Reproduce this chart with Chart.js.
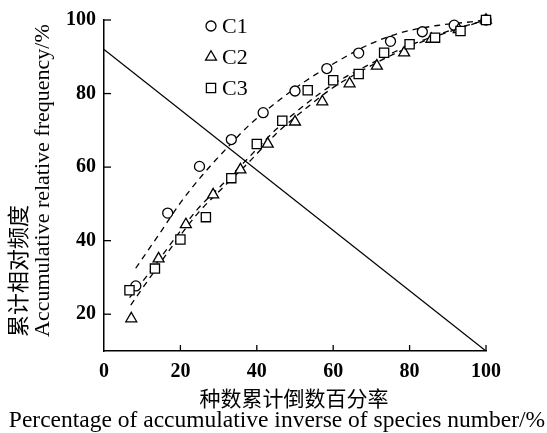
<!DOCTYPE html>
<html>
<head>
<meta charset="utf-8">
<script src="https://cdn.jsdelivr.net/npm/chart.js@4.4.1/dist/chart.umd.min.js"></script>
<style>
  html, body { margin: 0; padding: 0; background: #fff; }
  #wrap { width: 547px; height: 433px; }
</style>
</head>
<body>
<div id="wrap"><canvas id="chart" width="547" height="433"></canvas></div>
<script>
const c1X = [8.33, 16.67, 25, 33.33, 41.67, 50, 58.33, 66.67, 75, 83.33, 91.67, 100];
const c1Y = [27.7, 47.5, 60.2, 67.5, 74.8, 80.7, 86.8, 91.0, 94.2, 96.8, 98.6, 100];
const c2X = [7.14, 14.29, 21.43, 28.57, 35.71, 42.86, 50, 57.14, 64.29, 71.43, 78.57, 85.71, 92.86, 100];
const c2Y = [18.8, 35.1, 44.4, 52.5, 59.3, 66.3, 72.3, 77.8, 82.7, 87.5, 91.1, 94.8, 97.4, 100];
const c3X = [6.67, 13.33, 20, 26.67, 33.33, 40, 46.67, 53.33, 60, 66.67, 73.33, 80, 86.67, 93.33, 100];
const c3Y = [26.5, 32.4, 40.3, 46.4, 57.0, 66.3, 72.6, 80.9, 83.6, 85.3, 91.1, 93.4, 95.2, 97.0, 100];

// dashed fitted curves
const fit1X = [8.3, 14.6, 19.8, 25.9, 32, 38.1, 45, 52.9, 60.7, 69.3, 77.6, 87.2, 96, 100];
const fit1Y = [32.5, 42, 50, 58, 65, 71.5, 77.5, 83.5, 88.5, 93.3, 96.5, 98.5, 99.5, 100];
const fit2X = [7, 12.4, 18.1, 24.6, 30.7, 37.6, 45, 52.9, 59.8, 68.5, 76, 84, 92, 100];
const fit2Y = [22.5, 30.5, 38.8, 47.5, 54, 61, 69, 76, 81.5, 86.8, 90.8, 94.4, 97.4, 100];
const fit3X = [6.7, 12.4, 18.1, 24.6, 30.7, 37.6, 45, 52.9, 59.8, 68.5, 76, 84, 92, 100];
const fit3Y = [24.5, 32, 40, 48.7, 55, 62.3, 70.2, 77.2, 82.4, 87.4, 91.3, 94.7, 97.6, 100];

// solid straight line
const lineX = [0, 100];
const lineY = [92, 10];

const xTicks = [0, 20, 40, 60, 80, 100];
const yTicks = [20, 40, 60, 80, 100];
const seriesNames = ['C1', 'C2', 'C3'];

const pts = (xs, ys) => xs.map((x, i) => ({ x: x, y: ys[i] }));

const serif = '"Liberation Serif", "Times New Roman", serif';
const cjk = '"Noto Sans CJK SC", sans-serif';

function drawMarker(ctx, style, x, y, r) {
  ctx.beginPath();
  if (style === 'circle') {
    ctx.arc(x, y, r, 0, Math.PI * 2);
  } else if (style === 'triangle') {
    ctx.moveTo(x, y - r);
    ctx.lineTo(x + r * 0.866, y + r * 0.5);
    ctx.lineTo(x - r * 0.866, y + r * 0.5);
    ctx.closePath();
  } else {
    const s = r * Math.SQRT1_2;
    ctx.rect(x - s, y - s, 2 * s, 2 * s);
  }
  ctx.fillStyle = '#fff';
  ctx.fill();
  ctx.stroke();
}

const decorations = {
  id: 'decorations',
  afterDraw(chart) {
    const { ctx, chartArea: a, scales: { x, y } } = chart;
    ctx.save();
    ctx.strokeStyle = '#000';
    ctx.lineWidth = 1.3;

    // inward tick marks
    xTicks.forEach(v => {
      if (v === 0) return;
      const px = x.getPixelForValue(v);
      ctx.beginPath();
      ctx.moveTo(px, a.bottom);
      ctx.lineTo(px, a.bottom - 6);
      ctx.stroke();
    });
    yTicks.forEach(v => {
      const py = y.getPixelForValue(v);
      ctx.beginPath();
      ctx.moveTo(a.left, py);
      ctx.lineTo(a.left + 7, py);
      ctx.stroke();
    });

    // legend inside the plot
    const styles = ['circle', 'triangle', 'rect'];
    const radii = [5, 6.3, 6.5];
    ctx.font = '22px ' + serif;
    ctx.textBaseline = 'middle';
    seriesNames.forEach((name, i) => {
      const ly = a.top + 6 + i * 31;
      drawMarker(ctx, styles[i], a.left + 107, ly, radii[i]);
      ctx.fillStyle = '#000';
      ctx.textAlign = 'left';
      ctx.fillText(name, a.left + 118, ly + 1);
    });

    // axis titles
    ctx.fillStyle = '#000';
    ctx.textAlign = 'center';
    ctx.font = '21px ' + cjk;
    ctx.fillText('种数累计倒数百分率', 294, 398);
    ctx.font = '23.5px ' + serif;
    ctx.fillText('Percentage of accumulative inverse of species number/%', 277, 421);

    ctx.save();
    ctx.translate(18, 337);
    ctx.rotate(-Math.PI / 2);
    ctx.textAlign = 'left';
    ctx.font = '22px ' + cjk;
    ctx.fillText('累计相对频度', 0, 0);
    ctx.restore();

    ctx.save();
    ctx.translate(43, 337);
    ctx.rotate(-Math.PI / 2);
    ctx.textAlign = 'left';
    ctx.font = '22px ' + serif;
    ctx.fillText('Accumulative relative frequency/%', 0, 0);
    ctx.restore();

    ctx.restore();
  }
};

const dashed = (data) => ({
  type: 'line',
  data: data,
  borderColor: '#000',
  borderWidth: 1.3,
  borderDash: [6, 5],
  pointRadius: 0,
  fill: false,
  clip: false,
  cubicInterpolationMode: 'monotone',
  order: 5
});

const markers = (label, data, style, r, order) => ({
  type: 'scatter',
  label: label,
  data: data,
  pointStyle: style,
  pointRadius: r,
  pointBorderWidth: 1.3,
  pointBorderColor: '#000',
  pointBackgroundColor: '#fff',
  showLine: false,
  clip: false,
  order: order
});

new Chart(document.getElementById('chart'), {
  type: 'scatter',
  data: {
    datasets: [
      {
        type: 'line',
        data: pts(lineX, lineY),
        borderColor: '#000',
        borderWidth: 1.3,
        pointRadius: 0,
        fill: false,
        order: 6
      },
      dashed(pts(fit1X, fit1Y)),
      dashed(pts(fit2X, fit2Y)),
      dashed(pts(fit3X, fit3Y)),
      markers(seriesNames[0], pts(c1X, c1Y), 'circle', 5, 3),
      markers(seriesNames[1], pts(c2X, c2Y), 'triangle', 6.3, 2),
      markers(seriesNames[2], pts(c3X, c3Y), 'rect', 6.5, 1)
    ]
  },
  options: {
    responsive: false,
    animation: false,
    layout: { padding: { top: 19, right: 61, left: 0, bottom: 0 } },
    plugins: { legend: { display: false }, tooltip: { enabled: false } },
    scales: {
      x: {
        type: 'linear',
        min: 0,
        max: 100,
        afterBuildTicks: s => { s.ticks = xTicks.map(v => ({ value: v })); },
        afterFit: s => { s.height = 82; },
        grid: { display: false, drawTicks: false },
        border: { display: true, color: '#000', width: 1.5 },
        ticks: { color: '#000', padding: 9, font: { family: serif, size: 20, weight: 'bold' } }
      },
      y: {
        type: 'linear',
        min: 10,
        max: 100,
        afterBuildTicks: s => { s.ticks = yTicks.map(v => ({ value: v })); },
        afterFit: s => { s.width = 104; },
        grid: { display: false, drawTicks: false },
        border: { display: true, color: '#000', width: 1.5 },
        ticks: { color: '#000', padding: 8, font: { family: serif, size: 20, weight: 'bold' } }
      }
    }
  },
  plugins: [decorations]
});
</script>
</body>
</html>
